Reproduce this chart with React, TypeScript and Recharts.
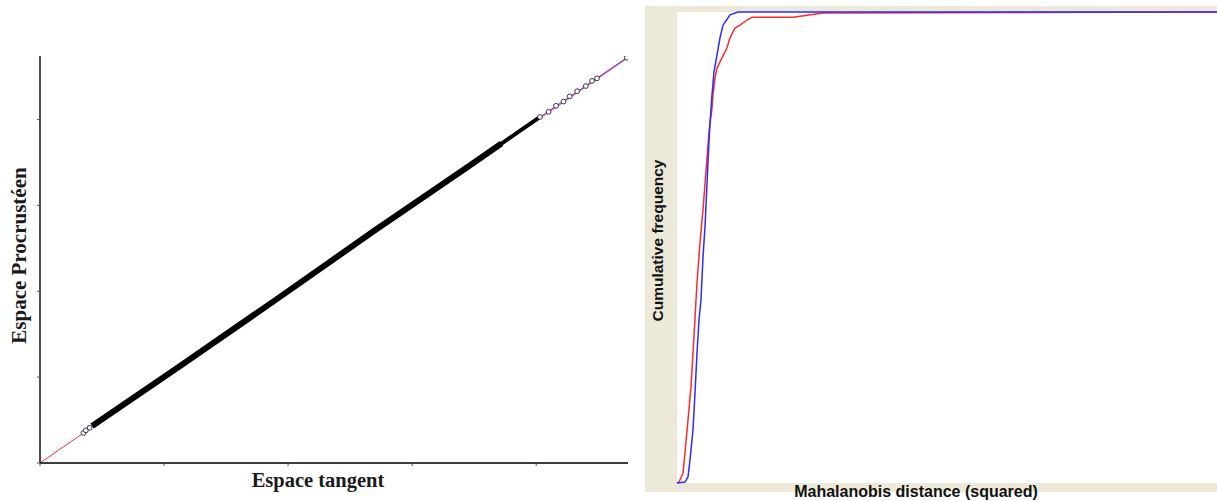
import React from "react";
import {
  ComposedChart,
  LineChart,
  Line,
  Scatter,
  XAxis,
  YAxis,
  CartesianGrid,
} from "recharts";

// left panel: tangent space vs Procrustes space
const tangentTicks = [0, 1, 2, 3, 4];
const procrustesTicks = [0, 1, 2, 3, 4];
const identityLine: [number, number][] = [
  [0, 0],
  [4.74, 4.72],
];
const fitLine: [number, number][] = [
  [3.9, 3.9],
  [4.74, 4.73],
];
const bandDense: [number, number][] = [
  [0.42, 0.43],
  [1.1, 1.1],
  [1.9, 1.9],
  [2.7, 2.71],
  [3.45, 3.45],
  [3.72, 3.72],
];
const bandThin: [number, number][] = [
  [3.7, 3.7],
  [3.9, 3.9],
  [4.02, 4.02],
];
const looseSpecimens: [number, number][] = [
  [0.35, 0.35],
  [0.37, 0.38],
  [0.4, 0.41],
  [4.03, 4.03],
  [4.1, 4.09],
  [4.16, 4.16],
  [4.22, 4.21],
  [4.27, 4.27],
  [4.33, 4.33],
  [4.4, 4.39],
  [4.45, 4.45],
  [4.49, 4.48],
  [4.73, 4.72],
];

// right panel: cumulative frequency of squared Mahalanobis distance
const observedCurve: [number, number][] = [
  [0, 0], [4, 0.002], [5.5, 0.013], [6.5, 0.049], [8, 0.113], [9, 0.191],
  [10, 0.276], [11, 0.346], [12, 0.389], [13, 0.48], [14, 0.544], [15.5, 0.682],
  [16.5, 0.766], [17.5, 0.824], [18.5, 0.873], [20, 0.909], [21.5, 0.945],
  [23, 0.972], [26.5, 0.994], [30.5, 1], [270, 1],
];
const expectedCurve: [number, number][] = [
  [0, 0], [1, 0.002], [3, 0.021], [4, 0.064], [5.5, 0.134], [7, 0.204],
  [8, 0.276], [9, 0.35], [10, 0.425], [11.5, 0.51], [13, 0.58], [15, 0.69],
  [16, 0.745], [17.5, 0.796], [18, 0.824], [19, 0.86], [20, 0.881],
  [21.5, 0.894], [25, 0.924], [26.5, 0.945], [29, 0.966], [31.5, 0.972],
  [35, 0.983], [37.5, 0.989], [58, 0.989], [73, 0.998], [270, 1],
];

const pts = (arr: [number, number][]) => arr.map(([x, y]) => ({ x, y }));

const serifBold = {
  fontFamily: "'Liberation Serif', serif",
  fontWeight: 700,
  fill: "#1a1a1a",
};
const sansBold = {
  fontFamily: "'Liberation Sans', Arial, sans-serif",
  fontWeight: 700,
  fill: "#111",
};

const OpenDot = (props: any) => (
  <circle cx={props.cx} cy={props.cy} r={2.4} fill="#fff" stroke="#3a3050" strokeWidth={1} />
);

export default function App() {
  return (
    <div style={{ position: "absolute", left: 0, top: 0, width: 1217, height: 501, background: "#fff", overflow: "hidden" }}>
      <div style={{ position: "absolute", left: 0, top: 0 }}>
        <ComposedChart width={640} height={501} margin={{ top: 56, right: 12, bottom: 0, left: 0 }}>
          <XAxis
            type="number"
            dataKey="x"
            domain={[0, 4.74]}
            ticks={tangentTicks}
            tickFormatter={() => ""}
            height={38}
            tickSize={3}
            axisLine={{ stroke: "#3c3c3c", strokeWidth: 2 }}
            tickLine={{ stroke: "#555" }}
            allowDataOverflow
            label={{
              content: ({ viewBox }: any) => (
                <text x={viewBox.x + viewBox.width / 2 - 16} y={viewBox.y + 24} textAnchor="middle" style={{ ...serifBold, fontSize: 20.5 }}>
                  Espace tangent
                </text>
              ),
            }}
          />
          <YAxis
            type="number"
            dataKey="y"
            domain={[0, 4.74]}
            ticks={procrustesTicks}
            tickFormatter={() => ""}
            width={40}
            tickSize={3}
            axisLine={{ stroke: "#111", strokeWidth: 1.5 }}
            tickLine={{ stroke: "#555" }}
            allowDataOverflow
            label={{
              content: ({ viewBox }: any) => {
                const cx = 26;
                const cy = viewBox.y + viewBox.height / 2 - 4;
                return (
                  <text x={cx} y={cy} textAnchor="middle" transform={`rotate(-90 ${cx} ${cy})`} style={{ ...serifBold, fontSize: 21 }}>
                    Espace Procrustéen
                  </text>
                );
              },
            }}
          />
          <Line data={pts(identityLine)} dataKey="y" stroke="#e8344a" strokeWidth={1} dot={false} isAnimationActive={false} />
          <Line data={pts(fitLine)} dataKey="y" stroke="#5a3cd8" strokeWidth={1} dot={false} isAnimationActive={false} />
          <Line data={pts(bandDense)} dataKey="y" stroke="#000" strokeWidth={6} dot={false} isAnimationActive={false} />
          <Line data={pts(bandThin)} dataKey="y" stroke="#000" strokeWidth={4} dot={false} isAnimationActive={false} />
          <Scatter data={pts(looseSpecimens)} dataKey="y" shape={OpenDot} isAnimationActive={false} />
        </ComposedChart>
      </div>

      <div style={{ position: "absolute", left: 645, top: 6, width: 572, height: 486, background: "#ece9d8" }} />
      <div style={{ position: "absolute", left: 645, top: 6 }}>
        <LineChart width={572} height={495} margin={{ top: 6, right: 0, bottom: 0, left: 0 }}>
          <CartesianGrid horizontal={false} vertical={false} fill="#fff" stroke="none" />
          <XAxis
            type="number"
            dataKey="x"
            domain={[0, 270]}
            height={18}
            tick={false}
            axisLine={false}
            tickLine={false}
            label={{
              content: ({ viewBox }: any) => (
                <text x={viewBox.x + viewBox.width / 2 - 31} y={viewBox.y + 14} textAnchor="middle" style={{ ...sansBold, fontSize: 16 }}>
                  Mahalanobis distance (squared)
                </text>
              ),
            }}
          />
          <YAxis
            type="number"
            dataKey="y"
            domain={[0, 1]}
            width={32}
            tick={false}
            axisLine={false}
            tickLine={false}
            label={{
              content: ({ viewBox }: any) => {
                const cx = 18;
                const cy = viewBox.y + viewBox.height / 2 - 7;
                return (
                  <text x={cx} y={cy} textAnchor="middle" transform={`rotate(-90 ${cx} ${cy})`} style={{ ...sansBold, fontSize: 15.5 }}>
                    Cumulative frequency
                  </text>
                );
              },
            }}
          />
          <Line data={pts(expectedCurve)} dataKey="y" stroke="#ff2a2a" strokeWidth={1.5} dot={false} isAnimationActive={false} />
          <Line data={pts(observedCurve)} dataKey="y" stroke="#2b2bff" strokeWidth={1.5} dot={false} isAnimationActive={false} />
        </LineChart>
      </div>
    </div>
  );
}
